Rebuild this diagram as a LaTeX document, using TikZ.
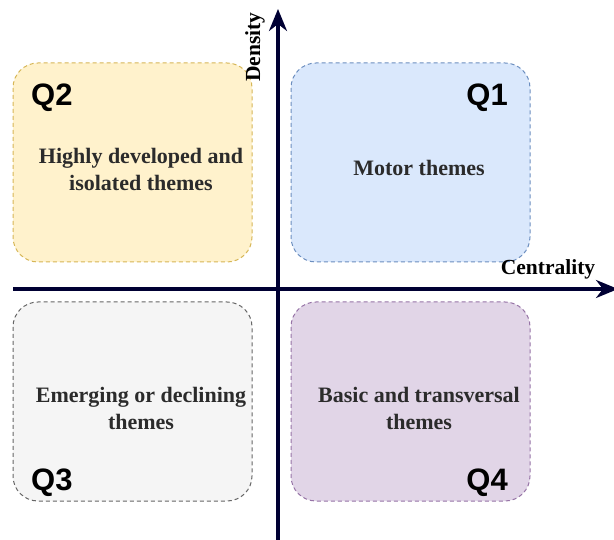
\documentclass[tikz,border=0pt]{standalone}
\usepackage{fontspec}
\setmainfont{Liberation Serif}
\newfontfamily\qfont{Liberation Sans}
\usetikzlibrary{arrows.meta}
\definecolor{ylwfill}{HTML}{FFF2CC}\definecolor{ylwline}{HTML}{D6B656}
\definecolor{blufill}{HTML}{DAE8FC}\definecolor{bluline}{HTML}{6C8EBF}
\definecolor{gryfill}{HTML}{F5F5F5}\definecolor{gryline}{HTML}{666666}
\definecolor{prpfill}{HTML}{E1D5E7}\definecolor{prpline}{HTML}{9673A6}
\definecolor{axiscol}{HTML}{000033}
\definecolor{txtcol}{HTML}{2B2B2B}
\begin{document}
\begin{tikzpicture}[x=1pt,y=-1pt,
  quad/.style={rounded corners=25pt,dash pattern=on 4pt off 3pt,line width=1pt},
  qlabel/.style={font=\qfont\bfseries\fontsize{31}{33}\selectfont,text=black,inner sep=0pt},
  theme/.style={font=\bfseries\fontsize{22}{27}\selectfont,text=txtcol,align=center,inner sep=0pt},
  axis/.style={line width=3.2pt,draw=axiscol,-{Stealth[length=22pt,width=18pt,inset=7pt]}},
  axlabel/.style={font=\bfseries\fontsize{21.5}{23}\selectfont,text=black,inner sep=0pt}]
\useasboundingbox (0,0) rectangle (614,540);
% quadrants
\draw[quad,fill=ylwfill,draw=ylwline] (13,63) rectangle (252,262);
\draw[quad,fill=blufill,draw=bluline] (291,63) rectangle (530,262);
\draw[quad,fill=gryfill,draw=gryline] (13,302) rectangle (252,501);
\draw[quad,fill=prpfill,draw=prpline] (291,302) rectangle (530,501);
% axes
\coordinate (xs) at (13,289);
\coordinate (xe) at (618,289);
\coordinate (ys) at (278,540);
\coordinate (ye) at (278,9);
\draw[axis] (xs) -- (xe);
\draw[axis] (ys) -- (ye);
\node[axlabel,rotate=90] (dens) at (255,47) {Density};
\node[axlabel] (cent) at (548,269) {Centrality};
% labels
\node[qlabel,anchor=west] (q2) at (31,98) {Q2};
\node[qlabel,anchor=east] (q1) at (508,98) {Q1};
\node[qlabel,anchor=west] (q3) at (31,483) {Q3};
\node[qlabel,anchor=east] (q4) at (508,483) {Q4};
% themes
\node[theme] (t2) at (141,169) {Highly developed and\\isolated themes};
\node[theme] (t1) at (419,168) {Motor themes};
\node[theme] (t3) at (141,408) {Emerging or declining\\themes};
\node[theme] (t4) at (419,408) {Basic and transversal\\themes};
\end{tikzpicture}
\end{document}
